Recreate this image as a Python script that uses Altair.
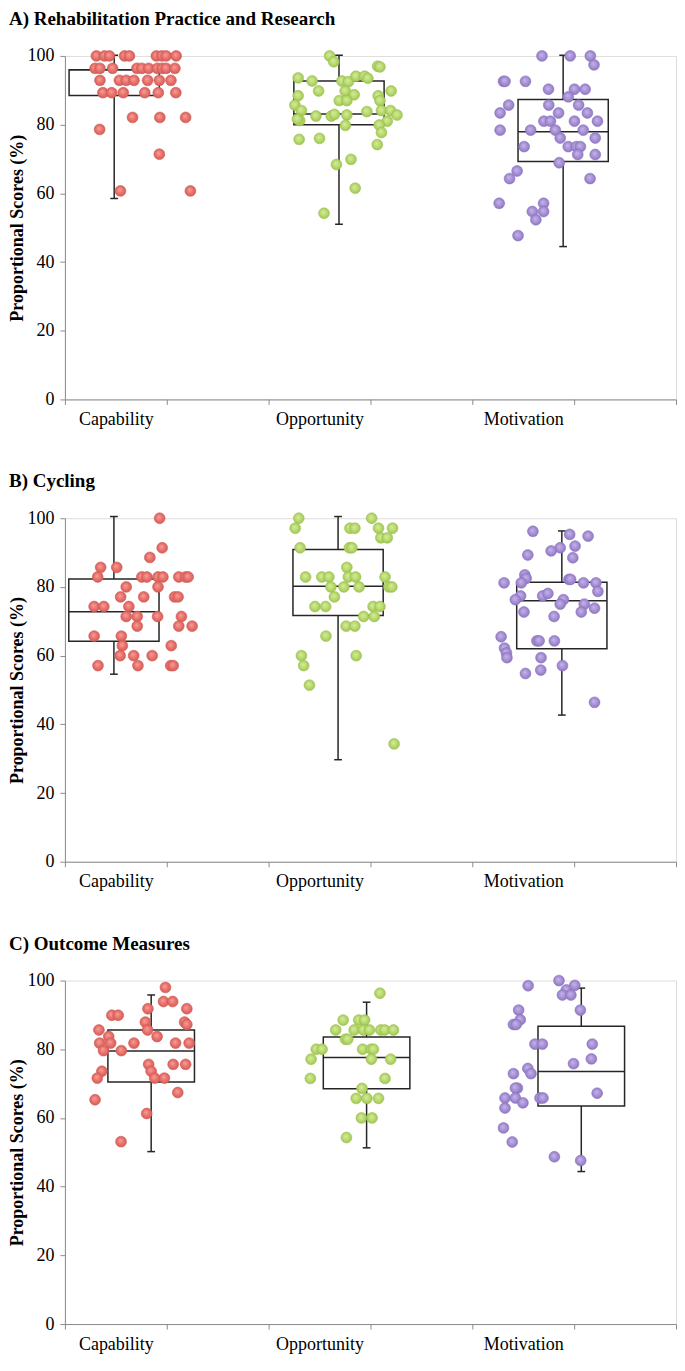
import altair as alt
import pandas as pd

FONT = "Liberation Serif"
categories = ["Capability", "Opportunity", "Motivation"]
label_pos = [0.5, 2.5, 4.5]
panel_titles = ["A) Rehabilitation Practice and Research", "B) Cycling", "C) Outcome Measures"]
y_title = "Proportional Scores (%)"

# ---------------- Box statistics (Capability, Opportunity, Motivation) ----------------
A_center = [0.484, 2.691, 4.892]
A_lo = [58.5, 51.0, 44.5]
A_q1 = [88.5, 80.0, 69.3]
A_med = [96.0, 83.1, 77.9]
A_q3 = [96.0, 92.7, 87.3]
A_hi = [100.2, 100.2, 100.2]

B_center = [0.481, 2.682, 4.879]
B_lo = [54.6, 29.7, 42.7]
B_q1 = [64.2, 71.7, 62.0]
B_med = [72.8, 80.2, 76.0]
B_q3 = [82.3, 90.9, 81.4]
B_hi = [100.5, 100.5, 96.3]

C_center = [0.847, 2.962, 5.070]
C_lo = [50.2, 51.3, 44.4]
C_q1 = [70.5, 68.5, 63.5]
C_med = [79.5, 77.6, 73.5]
C_q3 = [85.6, 83.6, 86.7]
C_hi = [95.8, 93.7, 97.8]

# ---------------- Individual scores (x = jittered position on category axis) ----------------
A_cap_x = [0.309, 0.389, 0.437, 0.586, 0.633, 0.898, 0.952, 0.994, 1.092,
           0.296, 0.344, 0.468, 0.707, 0.755, 0.822, 0.908, 0.955, 0.994, 1.080,
           0.344, 0.535, 0.602, 0.678, 0.812, 0.927, 1.041,
           0.373, 0.459, 0.573, 0.784, 0.917, 1.089,
           0.664, 0.932, 1.185, 0.341, 0.927, 0.545, 1.232]
A_cap_y = [100, 100, 100, 100, 100, 100, 100, 100, 100,
           96.4, 96.4, 96.4, 96.4, 96.4, 96.4, 96.4, 96.4, 96.4, 96.4,
           92.9, 92.9, 92.9, 92.9, 92.9, 92.9, 92.9,
           89.3, 89.3, 89.3, 89.3, 89.3, 89.3,
           82.1, 82.1, 82.1, 78.6, 71.4, 60.7, 60.7]

A_opp_x = [2.599, 2.640, 3.070, 3.093, 2.290, 2.427, 2.720, 2.783, 2.857, 2.943,
           2.974, 2.290, 2.491, 2.752, 2.840, 3.076, 3.093, 3.203, 2.258, 2.694,
           2.768, 2.322, 2.305, 2.283, 2.465, 2.615, 2.646, 2.768, 2.965, 3.108,
           3.198, 3.261, 3.165, 3.086, 3.108, 2.754, 2.300, 2.500, 3.067, 2.809,
           2.666, 2.850, 2.544]
A_opp_y = [100.0, 98.3, 97.0, 96.8, 93.6, 92.7, 92.7, 92.5, 94.1, 94.1,
           93.5, 88.4, 89.8, 89.8, 88.7, 88.4, 87.0, 89.8, 85.7, 87.0,
           87.0, 84.1, 81.2, 81.6, 82.5, 82.5, 83.0, 82.8, 83.8, 84.1,
           84.1, 82.8, 81.0, 79.9, 77.7, 79.8, 75.7, 76.0, 74.2, 69.9,
           68.4, 61.5, 54.2]

A_mot_x = [4.684, 4.961, 5.159, 5.195, 4.306, 4.321, 4.522, 4.748, 5.003, 5.108,
           4.942, 4.357, 4.273, 4.751, 5.044, 4.847, 5.130, 4.703, 4.767, 5.003,
           5.229, 4.273, 4.573, 4.815, 5.089, 4.863, 5.207, 4.509, 4.942, 5.022,
           5.061, 5.035, 5.207, 4.853, 4.440, 4.366, 5.156, 4.264, 4.700, 4.589,
           4.700, 4.624, 4.449]
A_mot_y = [100.0, 100.0, 100.0, 97.4, 92.6, 92.6, 92.6, 90.3, 90.3, 90.3,
           88.1, 85.7, 83.4, 85.7, 85.7, 83.4, 83.4, 81.0, 81.0, 81.0,
           81.0, 78.4, 78.4, 78.4, 78.4, 76.1, 76.1, 73.6, 73.6, 73.6,
           73.6, 71.3, 71.3, 68.9, 66.5, 64.3, 64.3, 57.1, 57.1, 54.7,
           54.7, 52.3, 47.7]

B_cap_x = [0.930, 0.955, 0.834, 0.351, 0.509, 0.322, 0.755, 0.805, 0.914, 0.962,
           1.118, 1.185, 1.210, 0.602, 0.914, 0.547, 0.774, 1.077, 1.111, 0.287,
           0.382, 0.628, 0.602, 0.710, 0.910, 1.144, 0.710, 1.118, 1.249, 0.287,
           0.554, 0.564, 1.044, 0.542, 0.675, 0.857, 0.325, 0.717, 1.039, 1.063]
B_cap_y = [100.0, 91.4, 88.6, 85.7, 85.7, 82.9, 82.9, 82.9, 82.9, 82.9,
           82.9, 82.9, 82.9, 80.0, 80.0, 77.1, 77.1, 77.1, 77.1, 74.3,
           74.3, 74.3, 71.4, 71.4, 71.4, 71.4, 68.6, 68.6, 68.6, 65.7,
           65.7, 62.9, 62.9, 60.0, 60.0, 60.0, 57.1, 57.1, 57.1, 57.1]

B_opp_x = [2.296, 3.012, 2.261, 2.799, 2.847, 3.079, 3.217, 3.102, 3.165, 2.309,
           2.793, 2.818, 2.768, 2.363, 2.522, 2.592, 2.783, 2.854, 3.143, 2.611,
           2.739, 2.888, 3.181, 3.210, 2.646, 2.455, 2.560, 3.026, 3.093, 2.933,
           3.038, 2.761, 2.847, 2.563, 2.322, 2.860, 2.344, 2.401, 3.232]
B_opp_y = [100.0, 100.0, 97.1, 97.1, 97.1, 97.1, 97.1, 94.3, 94.3, 91.4,
           91.4, 91.4, 85.7, 82.9, 82.9, 82.9, 82.9, 82.9, 82.9, 80.0,
           80.0, 80.0, 80.0, 80.0, 77.1, 74.3, 74.3, 74.3, 74.3, 71.4,
           71.4, 68.6, 68.6, 65.7, 60.0, 60.0, 57.1, 51.4, 34.3]

B_mot_x = [4.595, 4.956, 5.137, 4.863, 4.774, 5.009, 4.545, 4.987, 4.516, 4.529,
           4.312, 4.481, 4.949, 4.965, 5.092, 5.214, 5.233, 4.474, 4.423, 4.691,
           4.742, 4.894, 4.863, 5.099, 4.507, 5.070, 5.200, 4.803, 4.283, 4.634,
           4.656, 4.806, 4.316, 4.335, 4.340, 4.675, 4.885, 4.522, 4.672, 5.200]
B_mot_y = [96.2, 95.3, 94.8, 91.4, 90.5, 91.9, 89.3, 88.5, 83.5, 82.5,
           81.2, 81.2, 82.2, 82.2, 81.2, 81.2, 78.7, 77.4, 76.3, 77.4,
           78.1, 76.3, 75.0, 75.0, 72.7, 72.7, 73.8, 71.4, 65.5, 64.3,
           64.3, 64.3, 62.2, 60.8, 59.4, 59.4, 57.1, 54.8, 55.8, 46.4]

C_cap_x = [0.987, 0.968, 1.058, 0.815, 1.197, 0.461, 0.523, 0.790, 1.175, 1.197,
           0.334, 0.812, 0.430, 0.905, 0.341, 0.449, 0.678, 1.086, 1.220, 0.379,
           0.554, 0.822, 1.063, 1.185, 0.847, 0.363, 0.318, 0.882, 0.977, 1.108,
           0.296, 0.803, 0.551]
C_cap_y = [98.0, 93.9, 93.9, 91.8, 91.8, 89.9, 89.9, 87.9, 87.9, 87.2,
           85.6, 85.6, 83.7, 83.7, 81.8, 81.8, 81.8, 81.8, 81.8, 79.6,
           79.6, 75.6, 75.6, 75.6, 73.6, 73.6, 71.6, 71.6, 71.6, 67.4,
           65.3, 61.3, 53.1]

C_opp_x = [3.093, 2.732, 2.885, 2.943, 2.659, 2.840, 2.930, 2.990, 3.102, 3.140,
           3.226, 2.754, 2.777, 2.468, 2.525, 2.923, 3.007, 3.029, 2.417, 3.009,
           3.198, 2.410, 3.143, 2.917, 2.860, 2.965, 3.079, 2.911, 3.016, 2.764]
C_opp_y = [96.3, 88.5, 88.5, 88.5, 85.6, 85.6, 85.6, 85.6, 85.6, 85.6,
           85.6, 82.9, 82.9, 80.0, 80.0, 80.0, 80.0, 80.0, 77.1, 77.1,
           77.1, 71.5, 71.5, 68.6, 65.7, 65.7, 65.7, 60.0, 60.0, 54.3]

C_mot_x = [4.851, 4.548, 4.923, 5.006, 4.885, 4.968, 5.061, 4.455, 4.471, 4.404,
           4.430, 4.615, 4.688, 5.178, 5.169, 4.994, 4.545, 4.576, 4.404, 4.443,
           4.423, 4.321, 4.423, 4.497, 4.665, 4.694, 5.226, 4.321, 4.306, 4.392,
           4.806, 5.064]
C_mot_y = [100.0, 98.5, 97.3, 98.6, 95.8, 95.8, 91.4, 91.4, 88.6, 87.2,
           87.2, 81.5, 81.5, 81.5, 77.2, 75.8, 74.4, 72.9, 72.9, 68.7,
           68.7, 65.8, 65.8, 64.4, 65.8, 65.8, 67.2, 62.9, 57.1, 53.0,
           48.7, 47.6]

# ---------------- Styling ----------------
point_colors = [
    ("#f5a19c", "#ea716c", "#cf5a55"),
    ("#d6ec9e", "#b9da6e", "#9cc152"),
    ("#c6b6e9", "#a891d6", "#8a74be"),
]
AXIS_GRAY = "#8c8c8c"
BOX_COLOR = "#262626"
BOX_HALF = [0.443, 0.443, 0.425]
CAP_HALF = 0.038
PLOT_W = 612
PLOT_H = 344

x_vals = [i * 0.5 for i in range(13)]
label_expr = " : ".join(
    f"datum.value === {p} ? '{c}'" for p, c in zip(label_pos, categories)
) + " : ''"

x_axis = alt.Axis(
    values=x_vals, labelExpr=label_expr, grid=False,
    tickColor=alt.condition("datum.value % 1 === 0", alt.value(AXIS_GRAY), alt.value("transparent")),
    tickSize=5, domainColor=AXIS_GRAY, labelColor="black", labelFont=FONT,
    labelFontSize=18, labelPadding=6, labelOverlap=False, labelFlush=False,
)
y_axis = alt.Axis(
    values=[0, 20, 40, 60, 80, 100], grid=False, tickColor=AXIS_GRAY, tickSize=5,
    domainColor=AXIS_GRAY, labelColor="black", labelFont=FONT, labelFontSize=18,
    labelPadding=6, title=y_title, titleFont=FONT, titleFontSize=18,
    titleFontWeight="bold", titleColor="black", titlePadding=0,
)
xs = alt.Scale(domain=[0, 6], nice=False, zero=False)
ys = alt.Scale(domain=[0, 100], nice=False, zero=True)


def gradient(light, base, dark):
    return alt.RadialGradient(
        gradient="radial", x1=0.42, y1=0.38, r1=0.0, x2=0.5, y2=0.5, r2=0.55,
        stops=[alt.GradientStop(offset=0.0, color=light),
               alt.GradientStop(offset=0.55, color=base),
               alt.GradientStop(offset=1.0, color=dark)],
    )


def panel(title, center, lo, q1, med, q3, hi, half, groups):
    bdf = pd.DataFrame({"category": categories, "center": center, "lo": lo,
                        "q1": q1, "med": med, "q3": q3, "hi": hi})
    bdf["left"] = bdf["center"] - half
    bdf["right"] = bdf["center"] + half
    bdf["capL"] = bdf["center"] - CAP_HALF
    bdf["capR"] = bdf["center"] + CAP_HALF
    base = alt.Chart(bdf)
    X = lambda f: alt.X(f, scale=xs, axis=x_axis, title=None)
    Y = lambda f: alt.Y(f, scale=ys, axis=y_axis)
    w_lo = base.mark_rule(color=BOX_COLOR, strokeWidth=1.5).encode(x=X("center:Q"), y=Y("lo:Q"), y2="q1:Q")
    w_hi = base.mark_rule(color=BOX_COLOR, strokeWidth=1.5).encode(x=X("center:Q"), y=Y("q3:Q"), y2="hi:Q")
    c_lo = base.mark_rule(color=BOX_COLOR, strokeWidth=1.5).encode(x=X("capL:Q"), x2="capR:Q", y=Y("lo:Q"))
    c_hi = base.mark_rule(color=BOX_COLOR, strokeWidth=1.5).encode(x=X("capL:Q"), x2="capR:Q", y=Y("hi:Q"))
    box = base.mark_rect(fill="transparent", stroke=BOX_COLOR, strokeWidth=1.5).encode(
        x=X("left:Q"), x2="right:Q", y=Y("q1:Q"), y2="q3:Q")
    med_l = base.mark_rule(color=BOX_COLOR, strokeWidth=1.5).encode(x=X("left:Q"), x2="right:Q", y=Y("med:Q"))
    layers = [w_lo, w_hi, c_lo, c_hi, box, med_l]
    for (px, py), cat, cols in zip(groups, categories, point_colors):
        pdf = pd.DataFrame({"x": px, "value": py, "category": cat})
        layers.append(
            alt.Chart(pdf).mark_circle(size=118, opacity=1, fill=gradient(*cols),
                                       stroke=cols[2], strokeWidth=0.6)
            .encode(x=X("x:Q"), y=Y("value:Q"))
        )
    return alt.layer(*layers).properties(
        width=PLOT_W, height=PLOT_H,
        title=alt.TitleParams(text=title, anchor="start", frame="bounds", font=FONT,
                              fontSize=19, fontWeight="bold", color="black", offset=18),
    )


pA = panel(panel_titles[0], A_center, A_lo, A_q1, A_med, A_q3, A_hi, BOX_HALF[0],
           [(A_cap_x, A_cap_y), (A_opp_x, A_opp_y), (A_mot_x, A_mot_y)])
pB = panel(panel_titles[1], B_center, B_lo, B_q1, B_med, B_q3, B_hi, BOX_HALF[1],
           [(B_cap_x, B_cap_y), (B_opp_x, B_opp_y), (B_mot_x, B_mot_y)])
pC = panel(panel_titles[2], C_center, C_lo, C_q1, C_med, C_q3, C_hi, BOX_HALF[2],
           [(C_cap_x, C_cap_y), (C_opp_x, C_opp_y), (C_mot_x, C_mot_y)])

chart = (
    alt.vconcat(pA, pB, pC, spacing=42)
    .properties(padding={"left": 0, "top": 0, "right": 0, "bottom": 0})
    .configure_view(stroke=None)
    .configure(font=FONT)
)

chart.save("out.html", embed_options={"renderer": "svg", "actions": False})
